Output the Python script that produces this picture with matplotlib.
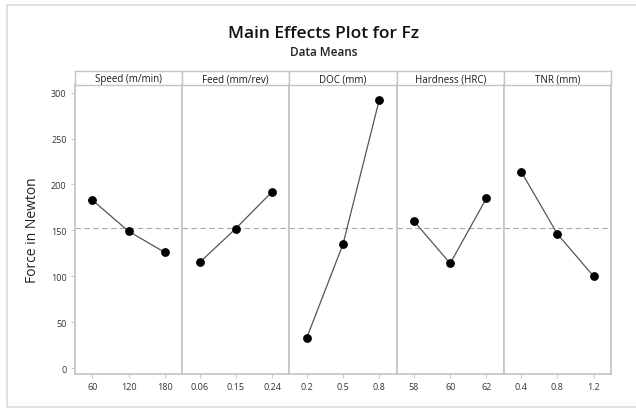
import matplotlib.pyplot as plt
import matplotlib.patches as patches
import numpy as np

plt.rcParams['font.family'] = ['Open Sans', 'DejaVu Sans']

# factors and their levels
factors = ['Speed (m/min)', 'Feed (mm/rev)', 'DOC (mm)', 'Hardness (HRC)', 'TNR (mm)']
levels = [['60', '120', '180'],
          ['0.06', '0.15', '0.24'],
          ['0.2', '0.5', '0.8'],
          ['58', '60', '62'],
          ['0.4', '0.8', '1.2']]

# mean force per level (N)
speed_means = [183, 149, 126]
feed_means = [115, 152, 192]
doc_means = [33, 135, 292]
hardness_means = [160, 114, 185]
tnr_means = [214, 146, 100]
means = [speed_means, feed_means, doc_means, hardness_means, tnr_means]

grand_mean = np.mean(np.concatenate([np.array(m, dtype=float) for m in means]))

W, H = 636, 410
fig = plt.figure(figsize=(W / 100, H / 100), dpi=100)

# outer frame
fig.patches.append(patches.Rectangle((7 / W, 2 / H), 640 / W, 402 / H,
                                     transform=fig.transFigure, fill=False,
                                     edgecolor='#dcdcdc', linewidth=1.2))

left, right = 75, 611
ax_bot, ax_top = 375, 86
hdr_top = 72
pw = (right - left) / len(factors)
frame_col = '#c4c4c4'

for i, (name, labs, vals) in enumerate(zip(factors, levels, means)):
    x0 = left + i * pw
    ax = fig.add_axes([x0 / W, 1 - ax_bot / H, pw / W, (ax_bot - ax_top) / H])
    xs = np.arange(len(vals))
    ax.axhline(grand_mean, color='#a8a8a8', linestyle=(0, (5, 3)), linewidth=0.8, zorder=1)
    ax.plot(xs, vals, color='#555555', linewidth=0.9, zorder=2)
    ax.plot(xs, vals, 'o', color='black', markersize=5.3, zorder=3)
    ax.set_xlim(-0.48, 2.48)
    ax.set_ylim(-6.5, 308.4)
    ax.set_xticks(xs)
    ax.set_xticklabels(labs)
    ax.set_yticks(np.arange(0, 301, 50))
    ax.tick_params(axis='both', labelsize=6.5, colors='#cccccc', labelcolor='#333333',
                   length=3, width=0.8, pad=3)
    if i > 0:
        ax.tick_params(axis='y', left=False, labelleft=False)
    else:
        ax.set_ylabel('Force in Newton', fontsize=10, color='#222222', labelpad=8)
    for s in ax.spines.values():
        s.set_color(frame_col)
        s.set_linewidth(1.2)

    hax = fig.add_axes([x0 / W, 1 - ax_top / H, pw / W, (ax_top - hdr_top) / H])
    hax.set_xticks([])
    hax.set_yticks([])
    for s in hax.spines.values():
        s.set_color(frame_col)
        s.set_linewidth(1.0)
    hax.text(0.5, 0.45, name, ha='center', va='center', fontsize=7,
             fontweight='medium', color='#1a1a1a', transform=hax.transAxes)

fig.text(324 / W, 1 - 34 / H, 'Main Effects Plot for Fz', ha='center', va='center',
         fontsize=12.5, fontweight='semibold', color='#111111')
fig.text(324 / W, 1 - 53 / H, 'Data Means', ha='center', va='center',
         fontsize=8.5, fontweight='semibold', color='#222222')

fig.savefig('out.png', dpi=100)
